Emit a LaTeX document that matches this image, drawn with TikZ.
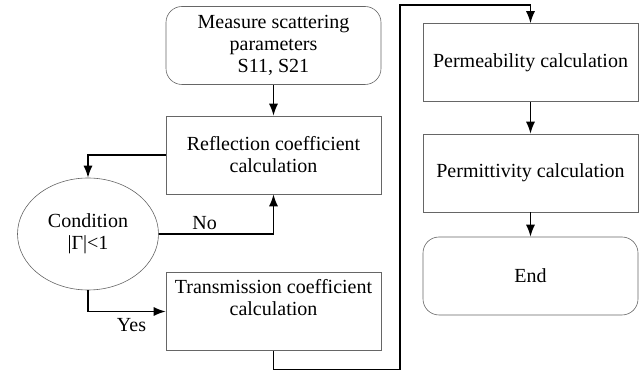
\documentclass[tikz,border=0pt]{standalone}
\usepackage{fontspec}
\setmainfont{Liberation Serif}
\usetikzlibrary{positioning,shapes.geometric,arrows.meta}

\begin{document}
\begin{tikzpicture}[
  x=1pt, y=-1pt,
  stepbox/.style={
    draw=black!60,
    line width=0.6pt,
    align=center,
    minimum height=78pt,
    minimum width=215pt,
    font=\fontsize{20}{22}\selectfont
  },
  termbox/.style={
    stepbox,
    rounded corners=16pt
  },
  decision/.style={
    draw=black!60,
    line width=0.6pt,
    ellipse,
    align=center,
    minimum height=112pt,
    minimum width=141pt,
    inner sep=0pt,
    font=\fontsize{20}{22}\selectfont
  },
  flow/.style={
    ->,
    line width=1.3pt
  },
  flowlabel/.style={
    font=\fontsize{20}{22}\selectfont
  },
  >={Latex[length=12pt,width=9pt]}
]
\useasboundingbox (0,0) rectangle (641,371);
\node[termbox] (measure) at (273.5,45.5) {Measure scattering\\parameters\\S11, S21};
\node[stepbox] (reflect) at (273.5,155) {Reflection coefficient\\calculation};
\node[decision] (cond) at (88,234) {Condition\\|Γ|<1};
\node[stepbox] (trans) at (273.5,311.5) {Transmission coefficient\\calculation\\\strut};
\node[stepbox] (perm) at (530.5,62.5) {Permeability calculation};
\node[stepbox] (permit) at (530.5,173) {Permittivity calculation};
\node[termbox] (stop) at (530.5,276) {End};

\draw[flow] (measure) -- (reflect);
\draw[flow] (reflect.west) -| (cond.north);
\draw[flow] (cond.east) -| node[flowlabel, pos=0.2, above] {No} (reflect.south);
\draw[flow] (cond.south) |- node[flowlabel, pos=0.78, below=3pt] {Yes} (trans.west);
\draw[flow] (trans.south) -- ++(0,19) -| (400,5) -| (perm.north);
\draw[flow] (perm) -- (permit);
\draw[flow] (permit) -- (stop);
\end{tikzpicture}
\end{document}
